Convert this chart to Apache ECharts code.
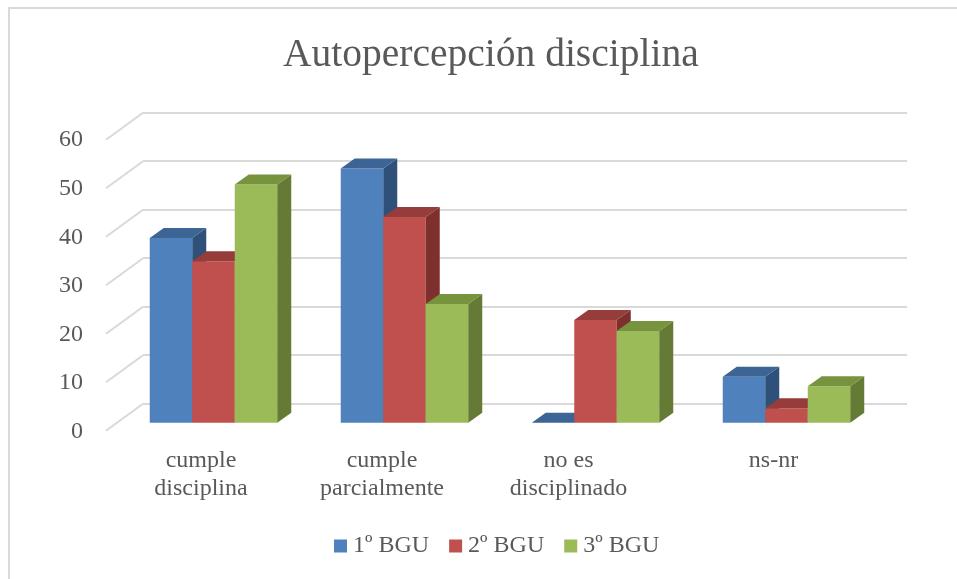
<!DOCTYPE html>
<html>
<head>
<meta charset="utf-8">
<script src="https://cdn.jsdelivr.net/npm/echarts@6/dist/echarts.min.js"></script>
<style>
html,body{margin:0;padding:0;background:#fff;}
#chart{width:957px;height:579px;}
</style>
</head>
<body>
<div id="chart"></div>
<script>
// ---- data ----
const categories = ['cumple\ndisciplina', 'cumple\nparcialmente', 'no es\ndisciplinado', 'ns-nr'];
const seriesNames = ['1º BGU', '2º BGU', '3º BGU'];
const bgu1 = [38.1, 52.4, 0, 9.5];
const bgu2 = [33.3, 42.4, 21.2, 3.0];
const bgu3 = [49.1, 24.5, 18.9, 7.5];
const yTicks = [0, 10, 20, 30, 40, 50, 60];

// ---- styles ----
const FONT = 'Liberation Serif';
const TXT = '#595959';
const frontColors = ['#4F81BD', '#C0504D', '#9BBB59'];
const topColors = ['#3C6494', '#963C3A', '#77933D'];
const sideColors = ['#2F5079', '#7E302E', '#657B35'];
const labelShift = [25, 45, 54, 26]; // right padding to nudge category labels
const DEPTH = [14, -10];
const FLOOR = [-37, 27];

const chart = echarts.init(document.getElementById('chart'));

function barRender(s) {
  return function (params, api) {
    const cat = api.value(0), v = api.value(1);
    const band = api.size([1, 0])[0];
    const bw = band * 0.2225;
    const base = api.coord([cat, 0]);
    const top = api.coord([cat, v]);
    const x0 = base[0] - 1.5 * bw + s * bw, x1 = x0 + bw;
    const yb = base[1], yt = top[1];
    const dx = DEPTH[0], dy = DEPTH[1];
    return {
      type: 'group',
      children: [
        { type: 'rect', shape: { x: x0, y: yt, width: bw, height: yb - yt },
          style: { fill: frontColors[s] } },
        { type: 'polygon', shape: { points: [[x1, yt], [x1 + dx, yt + dy], [x1 + dx, yb + dy], [x1, yb]] },
          style: { fill: sideColors[s] } },
        { type: 'polygon', shape: { points: [[x0, yt], [x1, yt], [x1 + dx, yt + dy], [x0 + dx, yt + dy]] },
          style: { fill: topColors[s] } }
      ]
    };
  };
}

const seriesData = [bgu1, bgu2, bgu3];

const richStyles = {};
labelShift.forEach((p, i) => {
  richStyles['s' + i] = { fontFamily: FONT, fontSize: 24, lineHeight: 28, color: TXT, padding: [0, p, 0, 0] };
});

const option = {
  animation: false,
  backgroundColor: '#fff',
  title: {
    text: 'Autopercepción disciplina',
    left: 278, top: 31,
    textStyle: { fontFamily: FONT, fontSize: 39.5, fontWeight: 'normal', color: TXT }
  },
  legend: {
    data: seriesNames,
    left: 334, top: 534, padding: 0,
    itemWidth: 13, itemHeight: 13, itemGap: 20,
    icon: 'rect',
    textStyle: { fontFamily: FONT, fontSize: 24, color: TXT, padding: [0, 0, 0, 1] }
  },
  grid: [
    // bar front plane
    { left: 118, right: 75, top: 131.7, bottom: 156.3 },
    // back wall
    { left: 143, right: 50, top: 112.7, bottom: 175.3 },
    // floor front (axis labels)
    { left: 106, right: 87, top: 140, bottom: 147.3 }
  ],
  xAxis: [
    { gridIndex: 0, type: 'category', data: categories,
      axisLine: { show: false }, axisTick: { show: false }, splitLine: { show: false },
      axisLabel: {
        margin: 24, interval: 0,
        formatter: function (val, idx) {
          return val.split('\n').map(l => '{s' + idx + '|' + l + '}').join('\n');
        },
        rich: richStyles
      } },
    { gridIndex: 1, type: 'value', min: 0, max: 1, show: false },
    { gridIndex: 2, type: 'value', min: 0, max: 1, show: false }
  ],
  yAxis: [
    { gridIndex: 0, type: 'value', min: 0, max: 60, interval: 10, show: false },
    { gridIndex: 1, type: 'value', min: 0, max: 60, interval: 10,
      axisLine: { show: false }, axisTick: { show: false }, axisLabel: { show: false },
      splitLine: { show: true, lineStyle: { color: '#D9D9D9', width: 2 } } },
    { gridIndex: 2, type: 'value', min: 0, max: 60, interval: 10,
      axisLine: { show: false }, axisTick: { show: false }, splitLine: { show: false },
      axisLabel: { margin: 23, fontFamily: FONT, fontSize: 24, color: TXT } }
  ],
  graphic: [
    { type: 'polyline', silent: true,
      shape: { points: [[9, 579], [9, 8], [957, 8]] },
      style: { stroke: '#D9D9D9', lineWidth: 2, fill: null } }
  ],
  series: [
    {
      type: 'custom', name: 'grid-depth', xAxisIndex: 1, yAxisIndex: 1, silent: true,
      data: yTicks.map(v => [0, v]),
      renderItem: function (params, api) {
        const p = api.coord([0, api.value(1)]);
        return { type: 'line', shape: { x1: p[0], y1: p[1], x2: p[0] + FLOOR[0], y2: p[1] + FLOOR[1] },
          style: { stroke: '#D9D9D9', lineWidth: 2 } };
      }
    }
  ].concat(seriesNames.map((name, s) => ({
    type: 'custom', name: name, xAxisIndex: 0, yAxisIndex: 0,
    itemStyle: { color: frontColors[s] },
    data: seriesData[s].map((v, i) => [i, v]),
    renderItem: barRender(s)
  })))
};

chart.setOption(option);
</script>
</body>
</html>
